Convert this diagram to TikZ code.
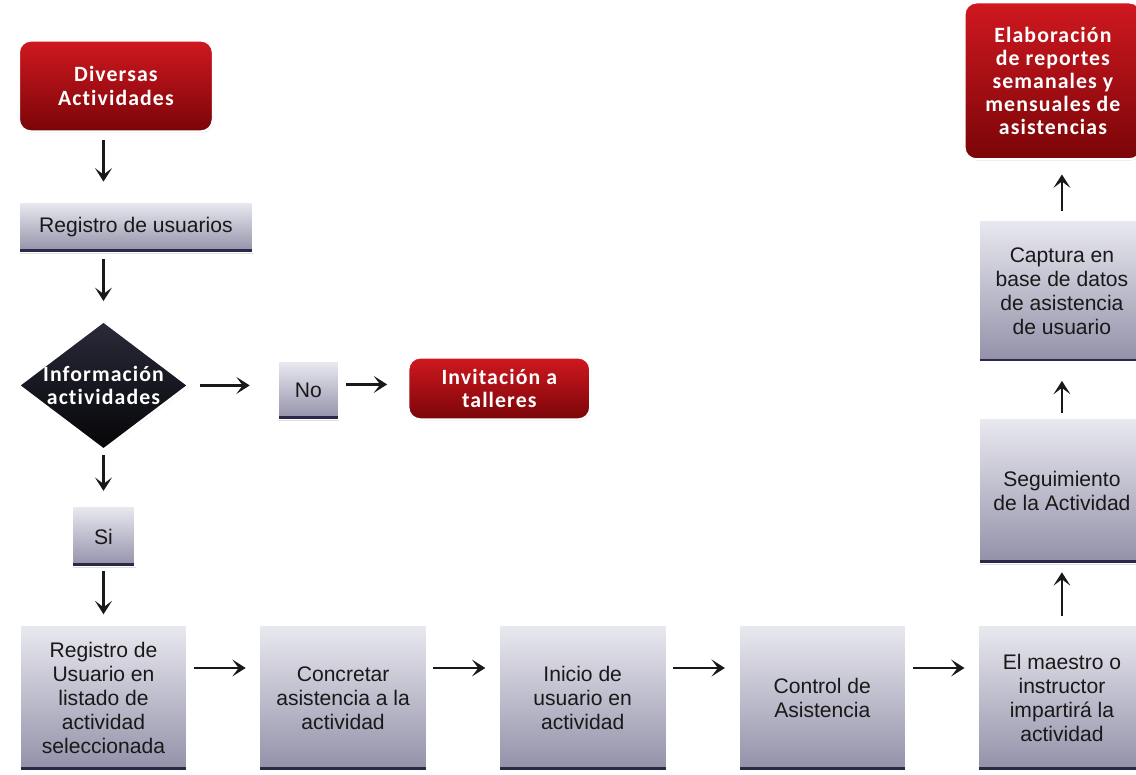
\documentclass[tikz,border=0pt]{standalone}
\usepackage{fontspec}
\setmainfont{Liberation Sans}
\newfontfamily\titlefont[LetterSpace=5,Ligatures=NoCommon]{Carlito}
\usetikzlibrary{arrows.meta,positioning,shapes.geometric,shadows}
\definecolor{redtop}{HTML}{D01820}
\definecolor{redbot}{HTML}{7A0508}
\definecolor{graytop}{HTML}{E9E9F0}
\definecolor{graybot}{HTML}{9290A8}
\definecolor{grayline}{HTML}{2A2948}
\definecolor{diatop}{HTML}{2A2A3A}
\definecolor{diabot}{HTML}{050508}
\tikzset{
    %Define standard arrow tip
    >={Stealth[length=9.5pt,width=12pt,inset=4.5pt]},
    %Define style for red boxes
    redbox/.style={
           rectangle,
           rounded corners=0.3cm,
           draw=white, line width=1.6pt,
           top color=redtop, bottom color=redbot,
           drop shadow={opacity=0.3, shadow xshift=0.6pt, shadow yshift=-0.9pt},
           text=white,
           align=center,
           font=\titlefont\bfseries\fontsize{15.5}{16.5}\selectfont},
    %Define style for gray boxes
    graybox/.style={
           rectangle,
           draw=white, line width=1pt,
           top color=graytop, bottom color=graybot,
           drop shadow={opacity=0.25, shadow xshift=0.6pt, shadow yshift=-0.9pt},
           path picture={\draw[grayline, line width=5pt]
               (path picture bounding box.south west) -- (path picture bounding box.south east);},
           text=black!90,
           align=center,
           font=\fontsize{15}{17}\selectfont},
    rowbox/.style={
           graybox,
           minimum width=4.175cm,
           minimum height=3.65cm},
    decision/.style={
           diamond,
           aspect=1.32,
           inner sep=0pt,
           draw=white, line width=2pt,
           top color=diatop, bottom color=diabot,
           drop shadow={opacity=0.3, shadow xshift=0.6pt, shadow yshift=-0.9pt},
           text=white,
           align=center,
           font=\titlefont\bfseries\fontsize{15.5}{16.5}\selectfont},
    % Define arrow style
    pil/.style={
           ->,
           draw=black!90,
           line width=2pt,
           shorten <=0.15cm,
           shorten >=0.33cm}
}

\begin{document}
\begin{tikzpicture}
\useasboundingbox (0,0) rectangle (28.4,19.375);
 %nodes
\node[rowbox] (b1) at (2.5875,1.925) {Registro de\\Usuario en\\listado de\\actividad\\seleccionada};
\node[rowbox, right=1.78cm of b1] (b2) {Concretar\\asistencia a la\\actividad};
\node[rowbox, right=1.78cm of b2] (b3) {Inicio de\\usuario en\\actividad};
\node[rowbox, right=1.78cm of b3] (b4) {Control de\\Asistencia};
\node[rowbox, right=1.78cm of b4] (b5) {El maestro o\\instructor\\impartirá la\\actividad};
\node[graybox, minimum width=4.15cm, minimum height=3.625cm, above=1.5cm of b5] (seg) {Seguimiento\\de la Actividad};
\node[graybox, minimum width=4.15cm, minimum height=3.55cm, above=1.375cm of seg] (cap) {Captura en\\base de datos\\de asistencia\\de usuario};
\node[redbox, minimum width=4.425cm, minimum height=3.925cm, above=1.475cm of cap, xshift=-0.225cm] (elab) {Elaboración\\de reportes\\semanales y\\mensuales de\\asistencias};
\node[graybox, minimum width=1.575cm, minimum height=1.5cm, above=1.425cm of b1] (si) {Si};
\node[decision, above=1.35cm of si] (info) {Información\\actividades};
\node[graybox, minimum width=5.85cm, minimum height=1.25cm, above=1.65cm of info, xshift=0.81cm] (reg) {Registro de usuarios};
\node[redbox, minimum width=4.85cm, minimum height=2.275cm, above=1.725cm of reg, xshift=-0.5cm] (div) {Diversas\\Actividades};
\node[graybox, minimum width=1.5cm, minimum height=1.45cm, right=2.175cm of info, yshift=-0.125cm] (no) {No};
\node[redbox, minimum width=4.55cm, minimum height=1.55cm, right=1.7cm of no, yshift=0.05cm] (inv) {Invitación a\\talleres};
 %connectors
\draw[pil, shorten <=0.175cm, shorten >=0.5cm] (div.south -| info.north) -- (reg.north -| info.north);
\draw[pil, shorten >=0.45cm] (reg.south -| info.north) -- (info.north);
\draw[pil, shorten <=0.08cm, shorten >=0.375cm] (info.south) -- (si.north);
\draw[pil, shorten <=0.1cm, shorten >=0.25cm] (si.south) -- (b1.north);
\draw[pil, shorten <=0.225cm, shorten >=0.7cm] (info.east) -- (info.east -| no.west);
\draw[pil, shorten <=0.175cm, shorten >=0.5cm] ([yshift=0.15cm]no.east) -- ([yshift=0.15cm]no.east -| inv.west);
\foreach \a/\b in {b1/b2,b2/b3,b3/b4,b4/b5}
  \draw[pil] ([yshift=0.75cm]\a.east) -- ([yshift=0.75cm]\b.west);
\draw[pil, shorten <=0.2cm, shorten >=0.2cm] (b5.north) -- (seg.south);
\draw[pil, shorten <=0.125cm, shorten >=0.45cm] (seg.north) -- (cap.south);
\draw[pil, shorten <=0.2cm, shorten >=0.35cm] (cap.north) -- (elab.south -| cap.north);
\end{tikzpicture}
\end{document}
